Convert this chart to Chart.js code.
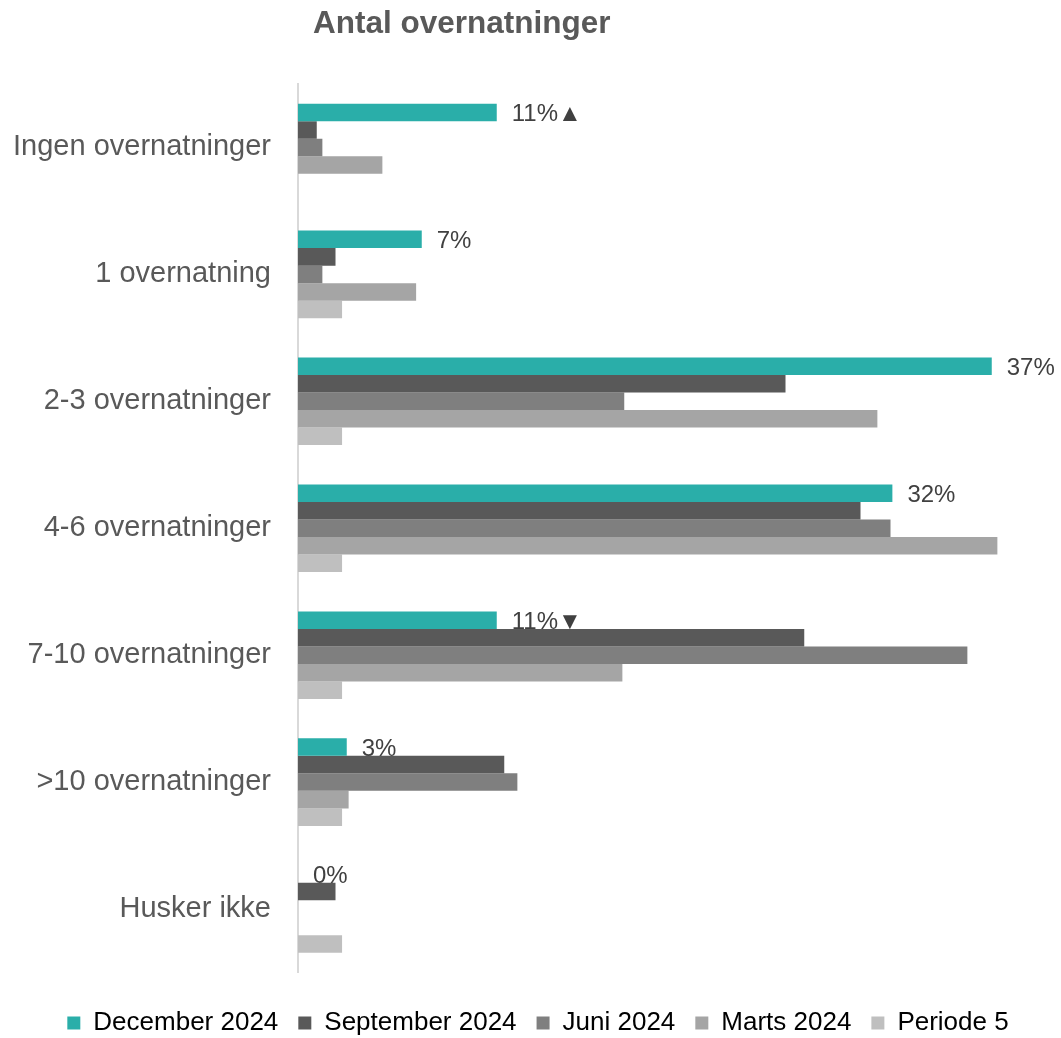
<!DOCTYPE html>
<html>
<head>
<meta charset="utf-8">
<script src="https://cdn.jsdelivr.net/npm/chart.js@4"></script>
<style>
  html, body { margin: 0; padding: 0; background: #fff; }
  #wrap { width: 1061px; height: 1038px; }
</style>
</head>
<body>
<div id="wrap"><canvas id="barChart"></canvas></div>
<script>
const categories = [
  'Ingen overnatninger', '1 overnatning', '2-3 overnatninger', '4-6 overnatninger',
  '7-10 overnatninger', '>10 overnatninger', 'Husker ikke'
];
const december2024 = [10.6, 6.6, 37.0, 31.7, 10.6, 2.6, 0];
const september2024 = [1.0, 2.0, 26.0, 30.0, 27.0, 11.0, 2.0];
const juni2024 = [1.3, 1.3, 17.4, 31.6, 35.7, 11.7, 0];
const marts2024 = [4.5, 6.3, 30.9, 37.3, 17.3, 2.7, 0];
const periode5 = [0, 2.35, 2.35, 2.35, 2.35, 2.35, 2.35];
const decemberLabels = ['11%▲', '7%', '37%', '32%', '11%▼', '3%', '0%'];

// title drawn by hand, it sits left of the plot centre in the original
const titlePlugin = {
  id: 'sideTitle',
  afterDraw(chart) {
    const ctx = chart.ctx;
    ctx.save();
    ctx.font = 'bold 31.5px "Liberation Sans", Arial, sans-serif';
    ctx.fillStyle = '#595959';
    ctx.textAlign = 'left';
    ctx.textBaseline = 'middle';
    ctx.fillText('Antal overnatninger', 313, 24);
    ctx.restore();
  }
};

// value labels for the December series only
const labelPlugin = {
  id: 'decLabels',
  afterDatasetsDraw(chart) {
    const ctx = chart.ctx;
    const meta = chart.getDatasetMeta(0);
    ctx.save();
    ctx.font = '24px "Liberation Sans", Arial, sans-serif';
    ctx.fillStyle = '#404040';
    ctx.textAlign = 'left';
    ctx.textBaseline = 'middle';
    meta.data.forEach((bar, i) => {
      ctx.fillText(decemberLabels[i], bar.x + 15, bar.y + 2);
    });
    ctx.restore();
  }
};

// legend in the original sits a bit right of centre
const legendShift = {
  id: 'legendShift',
  afterLayout(chart) {
    chart.legend.left += 14;
    chart.legend.right += 14;
  }
};

window.onload = function() {
  const ctx = document.getElementById('barChart').getContext('2d');

  const barChart = new Chart(ctx, {
    type: 'bar',
    data: {
      labels: categories,
      datasets: [
        { label: 'December 2024', data: december2024, backgroundColor: '#2aaea9' },
        { label: 'September 2024', data: september2024, backgroundColor: '#595959' },
        { label: 'Juni 2024', data: juni2024, backgroundColor: '#7f7f7f' },
        { label: 'Marts 2024', data: marts2024, backgroundColor: '#a5a5a5' },
        { label: 'Periode 5', data: periode5, backgroundColor: '#bfbfbf' }
      ]
    },
    options: {
      indexAxis: 'y',
      responsive: true,
      maintainAspectRatio: false,
      animation: false,
      datasets: {
        bar: { categoryPercentage: 0.69, barPercentage: 1.0, borderWidth: 0 }
      },
      layout: { padding: { top: 84, right: 13, bottom: -8, left: 0 } },
      scales: {
        x: {
          min: 0,
          max: 40,
          ticks: { display: false },
          grid: { display: false },
          border: { display: false },
          afterFit(scale) { scale.height = 17.5; }
        },
        y: {
          grid: { display: false, drawTicks: false },
          border: { display: true, color: '#d9d9d9', width: 2 },
          ticks: {
            padding: 27,
            color: '#595959',
            font: { family: '"Liberation Sans", Arial, sans-serif', size: 29 }
          },
          afterFit(scale) { scale.width = 298; }
        }
      },
      plugins: {
        legend: {
          position: 'bottom',
          labels: {
            boxWidth: 13,
            boxHeight: 13,
            padding: 20,
            color: '#000',
            font: { family: '"Liberation Sans", Arial, sans-serif', size: 26 }
          }
        },
        tooltip: { enabled: false }
      }
    },
    plugins: [titlePlugin, labelPlugin, legendShift]
  });
};
</script>
</body>
</html>
